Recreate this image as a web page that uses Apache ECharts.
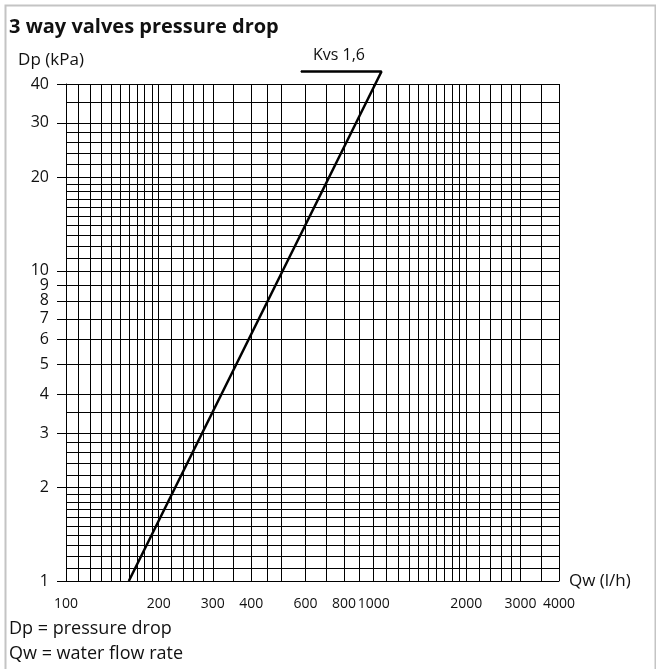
<!DOCTYPE html>
<html>
<head>
<meta charset="utf-8">
<script src="https://cdn.jsdelivr.net/npm/echarts@6/dist/echarts.min.js"></script>
<style>
html, body { margin: 0; padding: 0; background: #fff; }
#chart { width: 656px; height: 669px; }
</style>
</head>
<body>
<div id="chart"></div>
<script>
// grid lines of the log-log paper
const xGrid = [100, 110, 120, 130, 140, 150, 160, 170, 180, 190, 200, 220, 240, 260, 280, 300, 350, 400, 450,
    500, 600, 700, 800, 900, 1000, 1100, 1200, 1300, 1400, 1500, 1600, 1700, 1800, 1900, 2000,
    2200, 2400, 2600, 2800, 3000, 3500, 4000];
const yGrid = [1, 1.1, 1.2, 1.3, 1.4, 1.5, 1.6, 1.7, 1.8, 1.9, 2, 2.2, 2.4, 2.6, 2.8, 3, 3.5, 4, 5, 6, 7, 8, 9,
    10, 11, 12, 13, 14, 15, 16, 17, 18, 19, 20, 22, 24, 26, 28, 30, 35, 40];
// tick labels
const xLabels = [100, 200, 300, 400, 600, 800, 1000, 2000, 3000, 4000];
const yLabels = [1, 2, 3, 4, 5, 6, 7, 8, 9, 10, 20, 30, 40];
// Kvs 1,6 curve (Qw l/h, Dp kPa), starting at the label underline
const kvsQw = [580, 1060, 160];
const kvsDp = [43.9, 43.9, 1];

const font = "'Open Sans', sans-serif";

let chart = echarts.init(document.getElementById('chart'), null, { renderer: 'canvas' });

let gridLines = [];
xGrid.forEach(v => gridLines.push({ xAxis: v }));
yGrid.forEach(v => gridLines.push({ yAxis: v }));

let option = {
    animation: false,
    backgroundColor: '#fff',
    textStyle: { fontFamily: font },
    grid: { left: 66, top: 84, width: 493, height: 497 },
    graphic: [
        {
            type: 'rect', left: 3, top: 3, z: -10,
            shape: { width: 650, height: 670 },
            style: { fill: 'none', stroke: '#c4c4c4', lineWidth: 2 }
        },
        {
            type: 'text', left: 9, top: 17,
            style: { text: '3 way valves pressure drop', font: "bold 20px 'Open Sans', sans-serif", fill: '#111' }
        },
        {
            type: 'text', left: 9, top: 620,
            style: { text: 'Dp = pressure drop', font: "18px 'Open Sans', sans-serif", fill: '#111' }
        },
        {
            type: 'text', left: 9, top: 645,
            style: { text: 'Qw = water flow rate', font: "18px 'Open Sans', sans-serif", fill: '#111' }
        }
    ],
    xAxis: {
        type: 'log',
        logBase: 10,
        min: 100,
        max: 4000,
        name: 'Qw (l/h)',
        nameLocation: 'end',
        nameGap: 10,
        nameTextStyle: { color: '#111', fontSize: 17, fontFamily: font, verticalAlign: 'middle' },
        axisLine: { show: true, lineStyle: { color: '#000', width: 1 } },
        axisTick: { show: false },
        splitLine: { show: false },
        minorSplitLine: { show: false },
        axisLabel: {
            customValues: xLabels,
            margin: 16,
            color: '#111',
            fontSize: 14,
            fontFamily: font,
            formatter: v => String(Math.round(v))
        }
    },
    yAxis: {
        type: 'log',
        logBase: 10,
        min: 1,
        max: 40,
        name: 'Dp (kPa)',
        nameLocation: 'end',
        nameGap: 15,
        nameTextStyle: { color: '#111', fontSize: 17, fontFamily: font, align: 'center', padding: [0, 30, 0, 0] },
        axisLine: { show: true, lineStyle: { color: '#000', width: 1 } },
        axisTick: { show: true, customValues: yLabels, length: 9, lineStyle: { color: '#000', width: 1 } },
        splitLine: { show: false },
        axisLabel: {
            customValues: yLabels,
            margin: 17,
            color: '#111',
            fontSize: 16,
            fontFamily: font,
            formatter: v => String(Math.round(v))
        }
    },
    series: [
        {
            name: 'grid',
            type: 'line',
            data: [],
            silent: true,
            markLine: {
                silent: true,
                symbol: ['none', 'none'],
                label: { show: false },
                emphasis: { disabled: true },
                lineStyle: { color: '#000', width: 1, type: 'solid', opacity: 1 },
                data: gridLines
            }
        },
        {
            name: 'Kvs 1,6',
            type: 'line',
            clip: false,
            symbol: 'circle',
            symbolSize: 1,
            showSymbol: true,
            showAllSymbol: true,
            itemStyle: { color: '#000' },
            lineStyle: { color: '#000', width: 2.5 },
            data: kvsQw.map((q, i) => {
                let item = { value: [q, kvsDp[i]] };
                if (i === 0) {
                    item.label = {
                        show: true, position: 'top', formatter: 'Kvs 1,6', offset: [38, -3],
                        color: '#111', fontSize: 16, fontFamily: font
                    };
                }
                return item;
            }),
            z: 5
        }
    ]
};
chart.setOption(option);
</script>
</body>
</html>
